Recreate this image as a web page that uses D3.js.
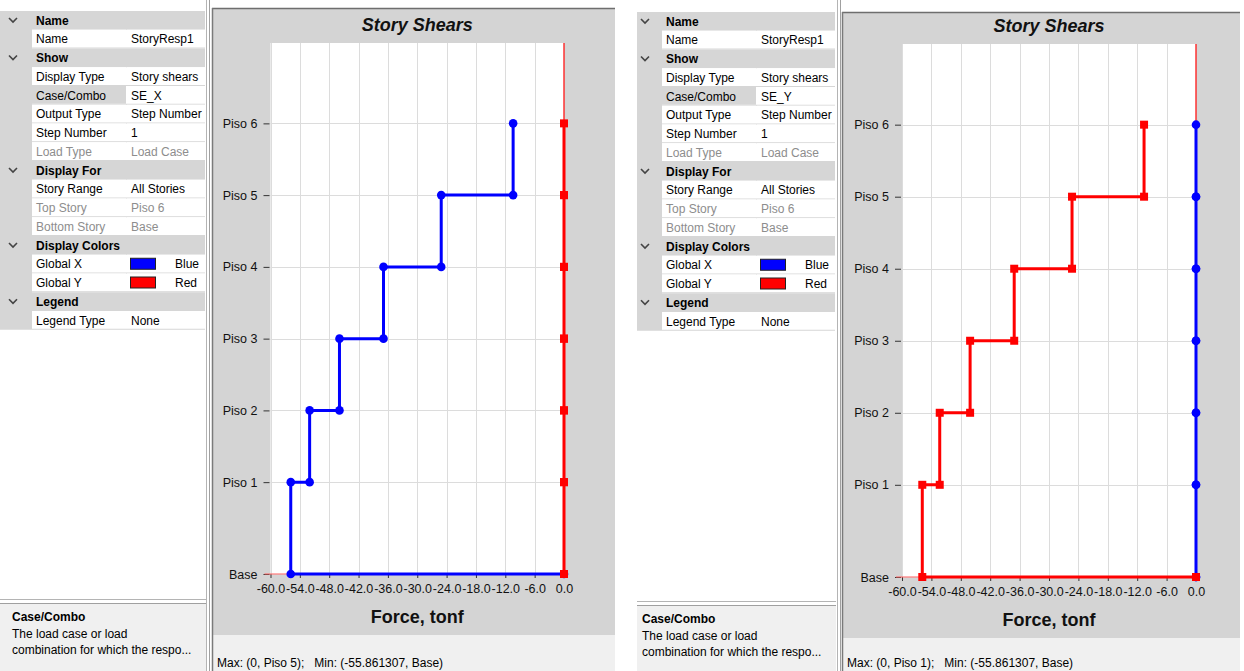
<!DOCTYPE html>
<html lang="en">
<head>
<meta charset="UTF-8">
<title>Story Shears</title>
<script src="https://cdn.jsdelivr.net/npm/d3@7"></script>
<style>
    body { margin: 0; background: #fff; }
    svg { display: block; font-family: "Liberation Sans", Arial, sans-serif; }
    .ui { font-size: 12px; fill: #000; white-space: pre; }
    .ui.dim { fill: #8d8d8d; }
    .ui.bold { font-weight: bold; }
    .grid line { stroke: #dcdcdc; stroke-width: 1; }
    .axis text { font-size: 12.5px; fill: #111; }
    .axis line { stroke: #333; }
    .axis path { display: none; }
    .title { font-size: 18px; font-weight: bold; font-style: italic; text-anchor: middle; fill: #111; }
    .xtitle { font-size: 18px; font-weight: bold; text-anchor: middle; fill: #111; }
</style>
</head>
<body>
<script>
    const width = 1244, height = 671;

    // stories and elevations (m)
    const stories = ["Base", "Piso 1", "Piso 2", "Piso 3", "Piso 4", "Piso 5", "Piso 6"];
    const elevations = [0, 3.2, 5.7, 8.2, 10.7, 13.2, 15.7];

    // story shears for Piso 1 .. Piso 6, tonf
    const sex_globalX = [-55.86, -52.0, -45.9, -36.9, -25.1, -10.4];
    const sex_globalY = [0, 0, 0, 0, 0, 0];
    const sey_globalX = [0, 0, 0, 0, 0, 0];
    const sey_globalY = [-55.86, -52.3, -46.1, -37.1, -25.3, -10.6];

    const xTicks = [-60, -54, -48, -42, -36, -30, -24, -18, -12, -6, 0];

    // property grid rows
    const gridNames = ["Name", "Name", "Show", "Display Type", "Case/Combo", "Output Type", "Step Number", "Load Type",
        "Display For", "Story Range", "Top Story", "Bottom Story", "Display Colors", "Global X", "Global Y", "Legend", "Legend Type"];
    const gridKinds = ["h", "r", "h", "r", "sel", "r", "r", "dim", "h", "r", "dim", "dim", "h", "color", "color", "h", "r"];
    const gridValuesSEX = ["", "StoryResp1", "", "Story shears", "SE_X", "Step Number", "1", "Load Case",
        "", "All Stories", "Piso 6", "Base", "", "Blue", "Red", "", "None"];
    const gridValuesSEY = ["", "StoryResp1", "", "Story shears", "SE_Y", "Step Number", "1", "Load Case",
        "", "All Stories", "Piso 6", "Base", "", "Blue", "Red", "", "None"];
    const swatches = {"Blue": "#0000ff", "Red": "#ff0000"};

    const svg = d3.select("body").append("svg").attr("width", width).attr("height", height);

    drawGrid({x0: 0, chev: 13, xName: 32, xVal: 127, x1: 205, top: 11, descTop: 603, descX: 12}, gridValuesSEX);
    drawGrid({x0: 637, chev: 645, xName: 662, xVal: 757, x1: 835, top: 12, descTop: 605, descX: 642}, gridValuesSEY);

    drawSplitter(206);
    drawSplitter(837);

    drawChart({
        px: 212, py: 8, pw: 403, statusTop: 635, statusBottom: 671,
        x0: 270.5, x1: 564, y0: 43, y1: 574,
        status: "Max: (0, Piso 5);   Min: (-55.861307, Base)"
    }, sex_globalX, sex_globalY);

    drawChart({
        px: 842, py: 12, pw: 398, statusTop: 638, statusBottom: 671,
        x0: 902, x1: 1196, y0: 44, y1: 577,
        status: "Max: (0, Piso 1);   Min: (-55.861307, Base)"
    }, sey_globalX, sey_globalY);

    function drawSplitter(x) {
        svg.append("line").attr("x1", x + 0.5).attr("x2", x + 0.5).attr("y1", 0).attr("y2", height)
            .attr("stroke", "#b4b4b4");
        svg.append("line").attr("x1", x + 3.5).attr("x2", x + 3.5).attr("y1", 0).attr("y2", height)
            .attr("stroke", "#a0a0a0");
    }

    function drawGrid(c, values) {
        const rowH = 18.75;
        const g = svg.append("g");
        const n = gridNames.length;
        // gutter
        g.append("rect").attr("x", c.x0).attr("y", c.top).attr("width", c.xName - c.x0).attr("height", rowH * n)
            .attr("fill", "#d6d6d6");
        gridNames.forEach(function(name, i) {
            const y = c.top + i * rowH;
            const kind = gridKinds[i];
            if (kind === "h") {
                g.append("rect").attr("x", c.x0).attr("y", y).attr("width", c.x1 - c.x0).attr("height", rowH)
                    .attr("fill", "#d6d6d6");
                g.append("path")
                    .attr("d", `M${c.chev - 4},${y + 7} L${c.chev},${y + 11} L${c.chev + 4},${y + 7}`)
                    .attr("fill", "none").attr("stroke", "#444").attr("stroke-width", 1.6);
                g.append("text").attr("class", "ui bold").attr("x", c.xName + 4).attr("y", y + 13.5).text(name);
                return;
            }
            g.append("rect").attr("x", c.xName).attr("y", y).attr("width", c.xVal - c.xName - 1).attr("height", rowH - 1)
                .attr("fill", kind === "sel" ? "#d6d6d6" : "#fff");
            g.append("rect").attr("x", c.xVal).attr("y", y).attr("width", c.x1 - c.xVal).attr("height", rowH - 1)
                .attr("fill", "#fff");
            g.append("line").attr("x1", c.xName).attr("x2", c.x1).attr("y1", y + rowH - 0.5).attr("y2", y + rowH - 0.5)
                .attr("stroke", "#d6d6d6");
            g.append("text").attr("class", kind === "dim" ? "ui dim" : "ui")
                .attr("x", c.xName + 4).attr("y", y + 13.5).text(name);
            if (kind === "color") {
                g.append("rect").attr("x", c.xVal + 3.5).attr("y", y + 3.5).attr("width", 25).attr("height", 11)
                    .attr("fill", swatches[values[i]]).attr("stroke", "#222");
                g.append("text").attr("class", "ui").attr("x", c.xVal + 48).attr("y", y + 13.5).text(values[i]);
            } else {
                g.append("text").attr("class", kind === "dim" ? "ui dim" : "ui")
                    .attr("x", c.xVal + 4).attr("y", y + 13.5).text(values[i]);
            }
        });
        // description panel
        g.append("rect").attr("x", c.x0).attr("y", c.descTop).attr("width", c.x1 - c.x0 + 1).attr("height", height - c.descTop)
            .attr("fill", "#f0f0f0");
        g.append("line").attr("x1", c.x0).attr("x2", c.x1 + 1).attr("y1", c.descTop + 0.5).attr("y2", c.descTop + 0.5)
            .attr("stroke", "#a0a0a0");
        g.append("line").attr("x1", c.x0).attr("x2", c.x1 + 1).attr("y1", c.descTop - 3.5).attr("y2", c.descTop - 3.5)
            .attr("stroke", "#b4b4b4");
        g.append("text").attr("class", "ui bold").attr("x", c.descX).attr("y", c.descTop + 18).text("Case/Combo");
        g.append("text").attr("class", "ui").attr("x", c.descX).attr("y", c.descTop + 35).text("The load case or load");
        g.append("text").attr("class", "ui").attr("x", c.descX).attr("y", c.descTop + 51).text("combination for which the respo...");
    }

    function stepPoints(v) {
        const pts = [];
        for (let i = stories.length - 1; i >= 1; i--) {
            pts.push([v[i - 1], elevations[i]]);
            pts.push([v[i - 1], elevations[i - 1]]);
        }
        pts.push([0, elevations[0]]);
        return pts;
    }

    function drawChart(c, globalX, globalY) {
        const g = svg.append("g");
        // panel
        g.append("rect").attr("x", c.px).attr("y", c.py).attr("width", c.pw).attr("height", c.statusTop - c.py)
            .attr("fill", "#d4d4d4");
        g.append("rect").attr("x", c.px).attr("y", c.statusTop).attr("width", c.pw).attr("height", c.statusBottom - c.statusTop)
            .attr("fill", "#f0f0f0");
        g.append("line").attr("x1", c.px).attr("x2", c.px + c.pw).attr("y1", c.py + 0.5).attr("y2", c.py + 0.5)
            .attr("stroke", "#6e6e6e").attr("stroke-width", 1.5);
        g.append("line").attr("x1", c.px + 0.5).attr("x2", c.px + 0.5).attr("y1", c.py).attr("y2", height)
            .attr("stroke", "#7a7a7a").attr("stroke-width", 1.5);

        const x = d3.scaleLinear().domain([-60, 0]).range([c.x0, c.x1]);
        const y = d3.scaleLinear().domain([0, 18.5]).range([c.y1, c.y0]);

        g.append("rect").attr("x", c.x0).attr("y", c.y0).attr("width", c.x1 - c.x0).attr("height", c.y1 - c.y0)
            .attr("fill", "#fff");

        const xm = (c.x0 + c.x1) / 2;
        g.append("text").attr("class", "title").attr("x", xm).attr("y", c.y0 - 12).text("Story Shears");

        // gridlines
        const grid = g.append("g").attr("class", "grid");
        grid.selectAll("line.v").data(xTicks).enter().append("line").attr("class", "v")
            .attr("x1", d => Math.round(x(d)) + 0.5).attr("x2", d => Math.round(x(d)) + 0.5)
            .attr("y1", c.y0).attr("y2", c.y1);
        grid.selectAll("line.h").data(elevations).enter().append("line").attr("class", "h")
            .attr("x1", c.x0).attr("x2", c.x1)
            .attr("y1", d => Math.round(y(d)) + 0.5).attr("y2", d => Math.round(y(d)) + 0.5);

        // axes
        g.append("g").attr("class", "axis").attr("transform", `translate(0,${c.y1})`)
            .call(d3.axisBottom(x).tickValues(xTicks).tickFormat(d => d.toFixed(1)).tickSize(4).tickPadding(6));
        g.append("g").attr("class", "axis").attr("transform", `translate(${c.x0 - 1},0)`)
            .call(d3.axisLeft(y).tickValues(elevations).tickFormat((d, i) => stories[i]).tickSize(6).tickPadding(6));

        g.append("text").attr("class", "xtitle").attr("x", xm).attr("y", c.y1 + 49).text("Force, tonf");

        // zero reference lines
        g.append("line").attr("x1", x(0)).attr("x2", x(0)).attr("y1", c.y0).attr("y2", c.y1)
            .attr("stroke", "#ff0000").attr("stroke-width", 1.2);
        g.append("line").attr("x1", c.x0 - 6).attr("x2", x(0)).attr("y1", y(0)).attr("y2", y(0))
            .attr("stroke", "#ff6060").attr("stroke-width", 1.2);

        const line = d3.line().x(d => x(d[0])).y(d => y(d[1]));

        // Global X (blue, circles)
        const bx = stepPoints(globalX);
        g.append("path").attr("d", line(bx)).attr("fill", "none").attr("stroke", "#0000ff").attr("stroke-width", 3);
        g.selectAll("circle.gx").data(bx).enter().append("circle").attr("class", "gx")
            .attr("cx", d => x(d[0])).attr("cy", d => y(d[1])).attr("r", 4.3).attr("fill", "#0000ff");

        // Global Y (red, squares)
        const ry = stepPoints(globalY);
        g.append("path").attr("d", line(ry)).attr("fill", "none").attr("stroke", "#ff0000").attr("stroke-width", 3);
        g.selectAll("rect.gy").data(ry).enter().append("rect").attr("class", "gy")
            .attr("x", d => x(d[0]) - 4).attr("y", d => y(d[1]) - 4).attr("width", 8).attr("height", 8)
            .attr("fill", "#ff0000");

        g.append("text").attr("class", "ui").attr("x", c.px + 5).attr("y", c.statusBottom - 4).text(c.status);
    }
</script>
</body>
</html>
